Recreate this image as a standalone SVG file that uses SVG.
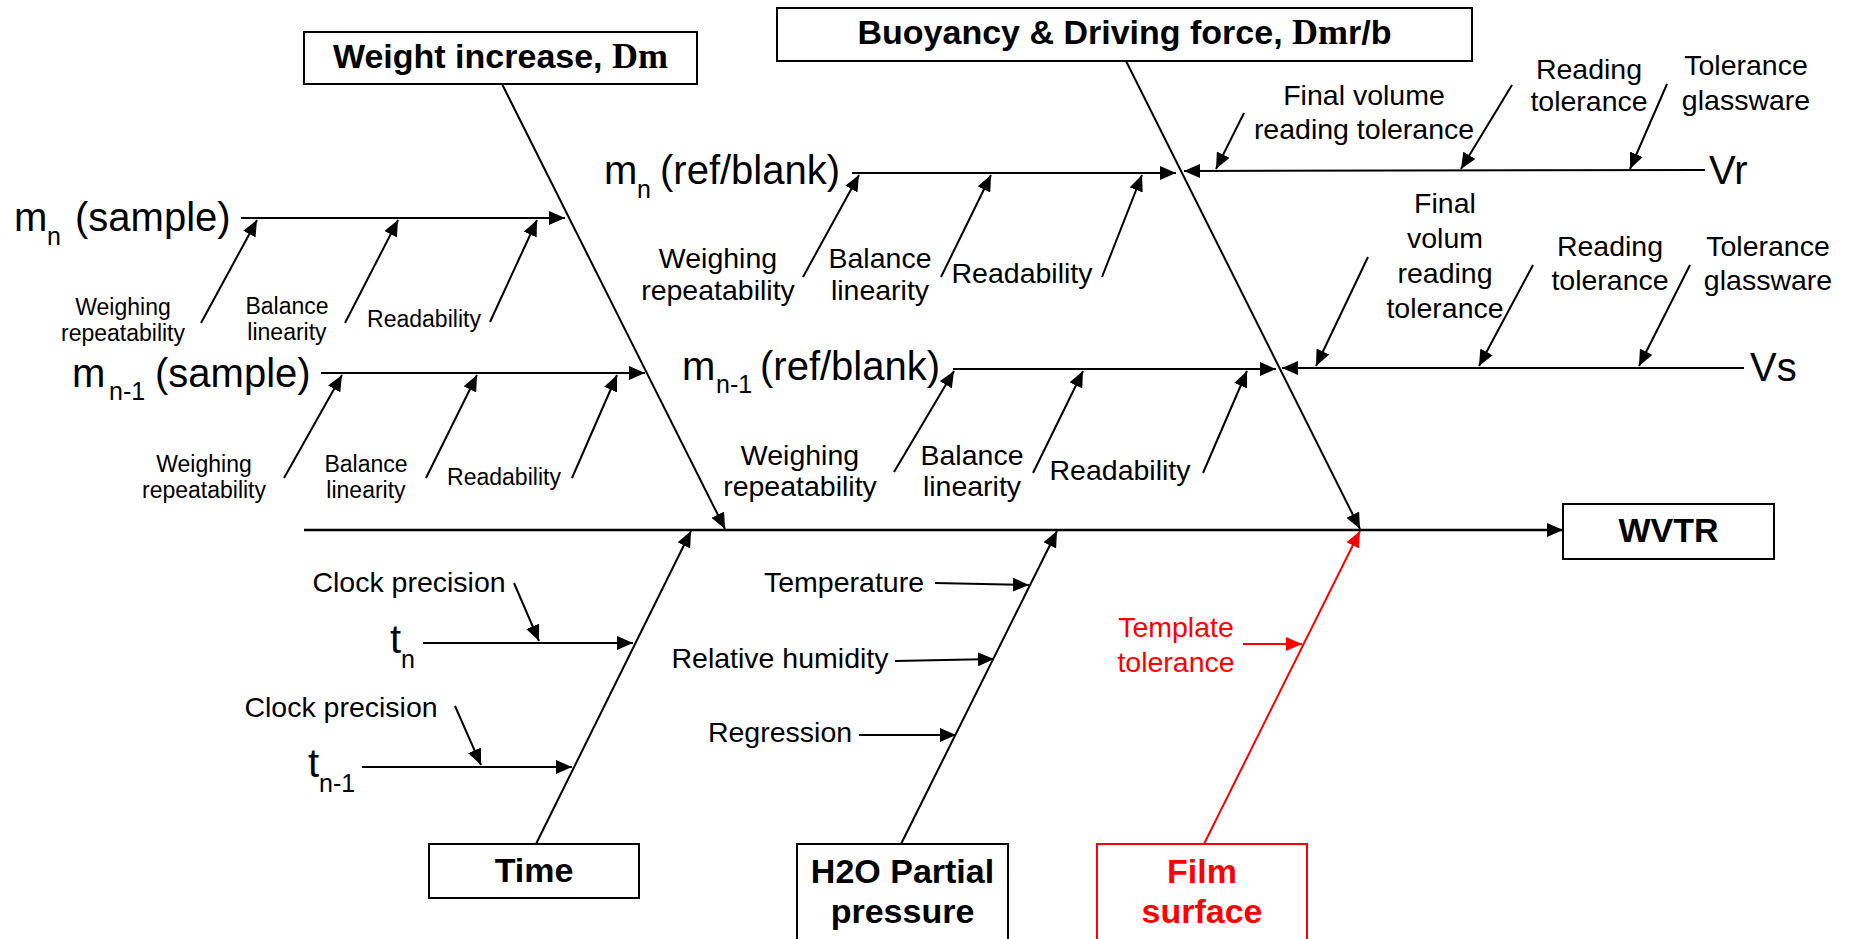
<svg xmlns="http://www.w3.org/2000/svg" width="1852" height="939" viewBox="0 0 1852 939">
<defs>
<marker id="ah" markerUnits="userSpaceOnUse" markerWidth="16" markerHeight="14" refX="16" refY="7" orient="auto"><path d="M0,0 L16,7 L0,14 z" fill="#000"/></marker>
<marker id="ahr" markerUnits="userSpaceOnUse" markerWidth="16" markerHeight="14" refX="16" refY="7" orient="auto"><path d="M0,0 L16,7 L0,14 z" fill="#f00"/></marker>
</defs>
<style>
text{font-family:"Liberation Sans",Arial,sans-serif;fill:#000}
.t{font-size:34px;font-weight:bold;text-anchor:middle}
.sf{font-family:"Liberation Serif","Times New Roman",serif;font-size:36px;font-weight:bold}
.big{font-size:40px}
.sub{font-size:25px}
.md{font-size:28.5px;text-anchor:middle}
.sm{font-size:23px;text-anchor:middle}
.red{fill:#f00}
.box{fill:#fff;stroke:#000;stroke-width:2}
.boxr{fill:#fff;stroke:#f00;stroke-width:2}
.c line{stroke:#000;stroke-width:2;marker-end:url(#ah)}
.c line.r{stroke:#f00;marker-end:url(#ahr)}
</style>
<g id="connectors" class="c">
<line x1="304" y1="530" x2="1563" y2="530" style="stroke-width:2.5"/>
<line x1="502" y1="84" x2="725" y2="529"/>
<line x1="1126" y1="61" x2="1360" y2="529"/>
<line x1="536" y1="844" x2="691" y2="531"/>
<line x1="901" y1="844" x2="1057" y2="531"/>
<line class="r" x1="1204" y1="844" x2="1360" y2="531"/>
<line x1="241" y1="218" x2="565" y2="218"/>
<line x1="201" y1="323" x2="257" y2="220"/>
<line x1="345" y1="323" x2="398" y2="220"/>
<line x1="490" y1="322" x2="537" y2="220"/>
<line x1="321" y1="373" x2="645" y2="373"/>
<line x1="284" y1="478" x2="342" y2="375"/>
<line x1="426" y1="478" x2="477" y2="375"/>
<line x1="572" y1="478" x2="617" y2="375"/>
<line x1="852" y1="173" x2="1176" y2="173"/>
<line x1="803" y1="277" x2="859" y2="175"/>
<line x1="941" y1="277" x2="991" y2="175"/>
<line x1="1102" y1="277" x2="1142" y2="175"/>
<line x1="1705" y1="170" x2="1184" y2="171"/>
<line x1="1244" y1="113" x2="1216" y2="169"/>
<line x1="1512" y1="85" x2="1461" y2="169"/>
<line x1="1667" y1="84" x2="1630" y2="169"/>
<line x1="953" y1="369" x2="1276" y2="369"/>
<line x1="894" y1="472" x2="954" y2="371"/>
<line x1="1033" y1="473" x2="1083" y2="371"/>
<line x1="1203" y1="473" x2="1247" y2="371"/>
<line x1="1744" y1="368" x2="1282" y2="368"/>
<line x1="1368" y1="257" x2="1316" y2="366"/>
<line x1="1533" y1="265" x2="1479" y2="366"/>
<line x1="1690" y1="265" x2="1639" y2="366"/>
<line x1="423" y1="643" x2="633" y2="643"/>
<line x1="514" y1="583" x2="539" y2="641"/>
<line x1="362" y1="767" x2="572" y2="767"/>
<line x1="455" y1="706" x2="481" y2="765"/>
<line x1="935" y1="583" x2="1029" y2="585"/>
<line x1="895" y1="661" x2="994" y2="659"/>
<line x1="859" y1="735" x2="956" y2="735"/>
<line class="r" x1="1243" y1="644" x2="1302" y2="644"/>
</g>
<g id="weight-increase">
<rect class="box" x="304" y="32" width="393" height="52"/>
<text class="t" x="500.5" y="68">Weight increase, <tspan class="sf">Dm</tspan></text>
</g>
<g id="buoyancy">
<rect class="box" x="777" y="8" width="695" height="53"/>
<text class="t" x="1124.5" y="44">Buoyancy &amp; Driving force, <tspan class="sf">Dm</tspan>r/b</text>
</g>
<g id="wvtr">
<rect class="box" x="1563" y="504" width="211" height="55"/>
<text class="t" x="1668.5" y="542">WVTR</text>
</g>
<g id="time">
<rect class="box" x="429" y="844" width="210" height="54"/>
<text class="t" x="534" y="882">Time</text>
</g>
<g id="h2o">
<rect class="box" x="797" y="844" width="211" height="110"/>
<text class="t" x="902.5" y="883">H2O Partial</text>
<text class="t" x="902.5" y="923">pressure</text>
</g>
<g id="film-surface">
<rect class="boxr" x="1097" y="844" width="210" height="110"/>
<text class="t red" x="1202" y="883">Film</text>
<text class="t red" x="1202" y="923">surface</text>
</g>
<g id="mn-sample">
<text class="big" x="14" y="231">m</text><text class="sub" x="47" y="245">n</text><text class="big" x="75" y="231">(sample)</text>
<text class="sm" x="123" y="315">Weighing</text><text class="sm" x="123" y="341">repeatability</text>
<text class="sm" x="287" y="314">Balance</text><text class="sm" x="287" y="340">linearity</text>
<text class="sm" x="424" y="327">Readability</text>
</g>
<g id="mn1-sample">
<text class="big" x="72" y="387">m</text><text class="sub" x="109" y="400">n-1</text><text class="big" x="155" y="387">(sample)</text>
<text class="sm" x="204" y="472">Weighing</text><text class="sm" x="204" y="498">repeatability</text>
<text class="sm" x="366" y="472">Balance</text><text class="sm" x="366" y="498">linearity</text>
<text class="sm" x="504" y="485">Readability</text>
</g>
<g id="mn-ref">
<text class="big" x="604" y="184">m</text><text class="sub" x="637" y="198">n</text><text class="big" x="660" y="184">(ref/blank)</text>
<text class="md" x="718" y="268">Weighing</text><text class="md" x="718" y="300">repeatability</text>
<text class="md" x="880" y="268">Balance</text><text class="md" x="880" y="300">linearity</text>
<text class="md" x="1022" y="283">Readability</text>
</g>
<g id="mn1-ref">
<text class="big" x="682" y="380">m</text><text class="sub" x="716" y="393">n-1</text><text class="big" x="760" y="380">(ref/blank)</text>
<text class="md" x="800" y="465">Weighing</text><text class="md" x="800" y="496">repeatability</text>
<text class="md" x="972" y="465">Balance</text><text class="md" x="972" y="496">linearity</text>
<text class="md" x="1120" y="480">Readability</text>
</g>
<g id="vr">
<text class="big" x="1709" y="184">Vr</text>
<text class="md" x="1364" y="105">Final volume</text><text class="md" x="1364" y="139">reading tolerance</text>
<text class="md" x="1589" y="79">Reading</text><text class="md" x="1589" y="111">tolerance</text>
<text class="md" x="1746" y="75">Tolerance</text><text class="md" x="1746" y="110">glassware</text>
</g>
<g id="vs">
<text class="big" x="1750" y="381">Vs</text>
<text class="md" x="1445" y="213">Final</text><text class="md" x="1445" y="248">volum</text><text class="md" x="1445" y="283">reading</text><text class="md" x="1445" y="318">tolerance</text>
<text class="md" x="1610" y="256">Reading</text><text class="md" x="1610" y="290">tolerance</text>
<text class="md" x="1768" y="256">Tolerance</text><text class="md" x="1768" y="290">glassware</text>
</g>
<g id="tn">
<text class="big" x="390" y="653">t</text><text class="sub" x="401" y="668">n</text>
<text class="md" x="409" y="592">Clock precision</text>
</g>
<g id="tn1">
<text class="big" x="308" y="777">t</text><text class="sub" x="319" y="792">n-1</text>
<text class="md" x="341" y="717">Clock precision</text>
</g>
<g id="h2o-factors">
<text class="md" x="844" y="592">Temperature</text>
<text class="md" x="780" y="668">Relative humidity</text>
<text class="md" x="780" y="742">Regression</text>
</g>
<g id="template-tolerance">
<text class="md red" x="1176" y="637">Template</text>
<text class="md red" x="1176" y="672">tolerance</text>
</g>
</svg>
